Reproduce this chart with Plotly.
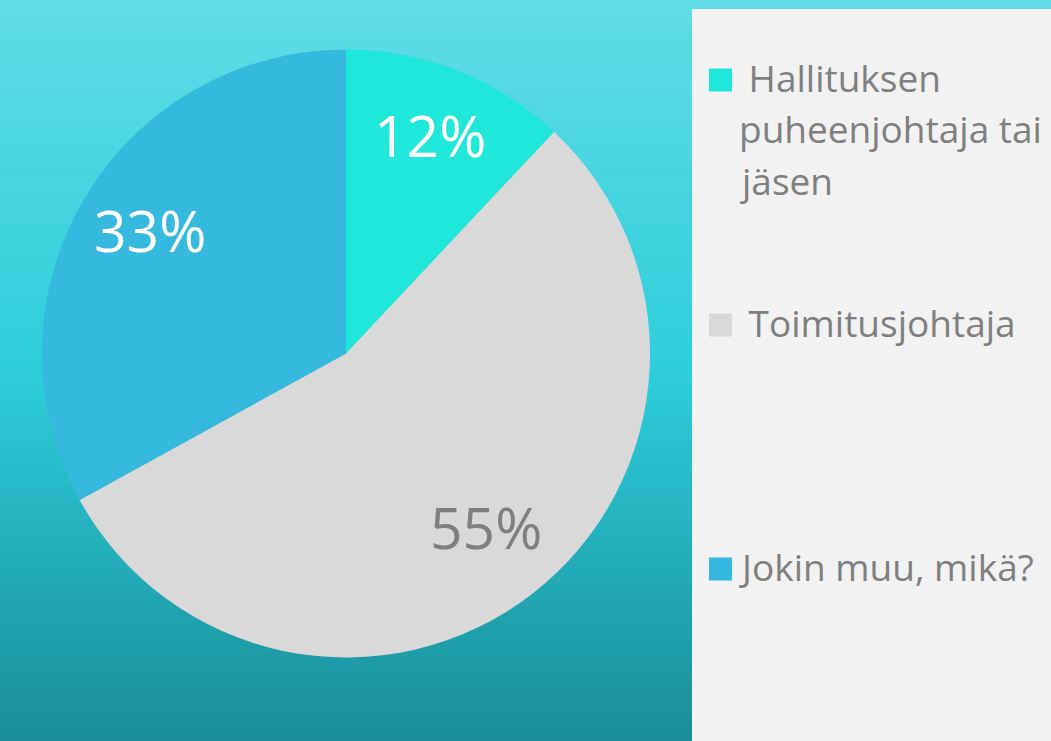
import math
import plotly.graph_objects as go

# ---- data ----
labels = ["Hallituksen puheenjohtaja tai jäsen", "Toimitusjohtaja", "Jokin muu, mikä?"]
legend_lines = [["\u00a0Hallituksen", "puheenjohtaja tai", "jäsen"],
                ["\u00a0Toimitusjohtaja"],
                ["Jokin muu, mikä?"]]
values = [12, 55, 33]
slice_colors = ["#1fe8da", "#d9d9d9", "#35b9de"]
text_colors = ["#ffffff", "#7f7f7f", "#ffffff"]

W, H = 1051, 741
CX, CY, R = 346, 353.5, 304

def px_x(x):
    return x / W

def px_y(y):
    return 1 - y / H

fig = go.Figure()
fig.add_trace(go.Pie(
    labels=labels,
    values=values,
    sort=False,
    direction="clockwise",
    rotation=0,
    marker=dict(colors=slice_colors, line=dict(width=0)),
    textinfo="none",
    domain=dict(x=[px_x(CX - R), px_x(CX + R)], y=[px_y(CY + R), px_y(CY - R)]),
    showlegend=False,
    hoverinfo="label+percent",
))

shapes = []
# gradient background
stops = [(0.0, (0x62, 0xdc, 0xe5)), (0.5, (0x2d, 0xce, 0xdb)), (1.0, (0x1a, 0x8d, 0x98))]

def grad(t):
    for (t0, c0), (t1, c1) in zip(stops[:-1], stops[1:]):
        if t <= t1:
            f = (t - t0) / (t1 - t0)
            return "rgb(%d,%d,%d)" % tuple(round(a + (b - a) * f) for a, b in zip(c0, c1))
    return "rgb(%d,%d,%d)" % stops[-1][1]

N = 148
for i in range(N):
    y0 = i * H / N
    y1 = (i + 1) * H / N + 0.6
    shapes.append(dict(type="rect", xref="paper", yref="paper", layer="below",
                       x0=0, x1=1, y0=px_y(min(y1, H)), y1=px_y(y0),
                       fillcolor=grad((i + 0.5) / N), line=dict(width=0)))

# legend panel
shapes.append(dict(type="rect", xref="paper", yref="paper", layer="below",
                   x0=px_x(692), x1=1, y0=0, y1=px_y(9),
                   fillcolor="#f2f2f2", line=dict(width=0)))

annotations = []

# percentage labels placed along each slice's mid-angle
total = sum(values)
cum = 0
for v, tc in zip(values, text_colors):
    mid = (cum + v / 2) / total * 2 * math.pi
    cum += v
    lx = CX + 0.75 * R * math.sin(mid)
    ly = CY - 0.75 * R * math.cos(mid)
    annotations.append(dict(
        text="%d%%" % round(100 * v / total), xref="paper", yref="paper",
        x=px_x(lx), y=px_y(ly), xanchor="center", yanchor="middle", yshift=7,
        showarrow=False, font=dict(family="Open Sans", size=57, color=tc),
    ))

# legend
item_centers = [80, 325, 569]
FS = 37
LINE = 51.5
for lines, col, cy in zip(legend_lines, slice_colors, item_centers):
    shapes.append(dict(type="rect", xref="paper", yref="paper",
                       x0=px_x(709), x1=px_x(732), y0=px_y(cy + 11.5), y1=px_y(cy - 11.5),
                       fillcolor=col, line=dict(width=0)))
    for k, line in enumerate(lines):
        baseline = cy + 12 + k * LINE
        annotations.append(dict(
            text=line, xref="paper", yref="paper", x=px_x(737),
            y=px_y(baseline - 0.4 * FS), xanchor="left", yanchor="middle",
            align="left", showarrow=False,
            font=dict(family="Open Sans", size=FS, color="#7f7f7f"),
        ))

fig.update_layout(
    width=W, height=H,
    margin=dict(l=0, r=0, t=0, b=0),
    paper_bgcolor="#2dcedb",
    plot_bgcolor="rgba(0,0,0,0)",
    shapes=shapes,
    annotations=annotations,
    showlegend=False,
)

fig.write_html("out.html", config={"displayModeBar": False},
               post_script="document.body.style.margin='0';")
